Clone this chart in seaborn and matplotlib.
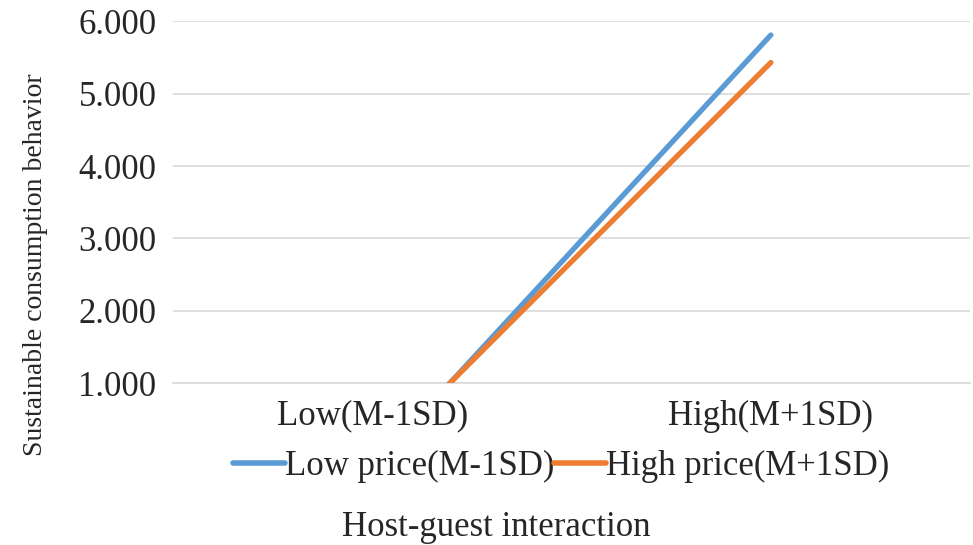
import matplotlib
matplotlib.use("Agg")
import matplotlib.pyplot as plt
import seaborn as sns
import pandas as pd

categories = ["Low(M-1SD)", "High(M+1SD)"]
series_names = ["Low price(M-1SD)", "High price(M+1SD)"]
low_price = [-0.16, 5.81]
high_price = [-0.07, 5.43]
y_ticks = [1, 2, 3, 4, 5, 6]
y_tick_labels = ["1.000", "2.000", "3.000", "4.000", "5.000", "6.000"]
colors = ["#5B9BD5", "#ED7D31"]

rows = []
for name, vals in zip(series_names, [low_price, high_price]):
    for i, v in enumerate(vals):
        rows.append({"x": i, "cat": categories[i], "value": v, "series": name})
df = pd.DataFrame(rows)

sns.set_style("white")
plt.rcParams["font.family"] = ["Liberation Serif", "DejaVu Serif"]

fig = plt.figure(figsize=(9.73, 5.45), dpi=100)
ax = fig.add_axes([0.178, 0.297, 0.819, 0.664])

sns.lineplot(data=df, x="x", y="value", hue="series", palette=colors,
             hue_order=series_names, linewidth=3.8, ax=ax,
             solid_capstyle="round", legend=True, zorder=3)

ax.set_xlim(-0.5, 1.5)
ax.set_ylim(1, 6)
ax.set_yticks(y_ticks)
ax.set_yticklabels(y_tick_labels, fontsize=25)
ax.set_xticks([0, 1])
ax.set_xticklabels(categories, fontsize=25)
ax.tick_params(axis="y", length=0, pad=12)
ax.tick_params(axis="x", direction="in", length=5, color="#D9D9D9", width=1, pad=12)
ax.yaxis.grid(True, color="#D9D9D9", linewidth=1.2)
ax.set_axisbelow(True)
for s in ["left", "right", "top"]:
    ax.spines[s].set_visible(False)
ax.spines["bottom"].set_color("#D9D9D9")
ax.spines["bottom"].set_linewidth(1.2)

ax.set_xlabel("Host-guest interaction", fontsize=25)
ax.xaxis.set_label_coords(0.406, -0.352)
ax.set_ylabel("Sustainable consumption behavior", fontsize=20)
ax.yaxis.set_label_coords(-0.157, 0.326)

leg = ax.legend(loc="upper center", bbox_to_anchor=(0.487, -0.147), ncol=2,
                frameon=False, fontsize=25, handlelength=1.5, handletextpad=0.0,
                columnspacing=0.0, borderaxespad=0)
for line in leg.get_lines():
    line.set_linewidth(4)

fig.savefig("out.png", dpi=100)
